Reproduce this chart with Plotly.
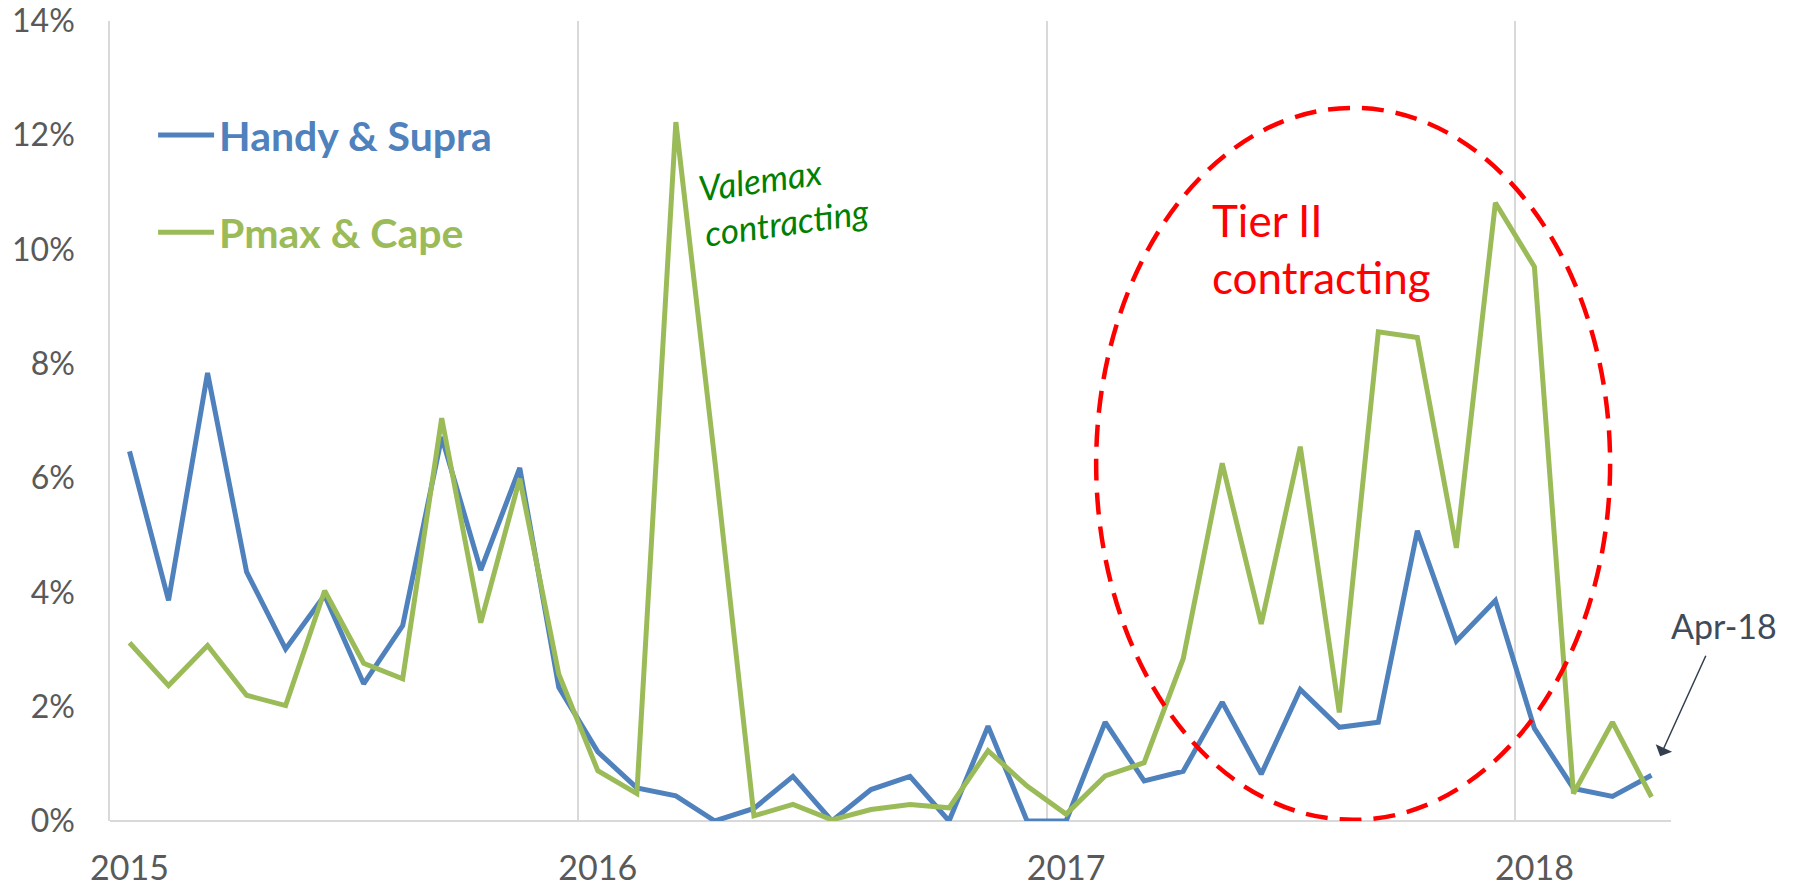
import plotly.graph_objects as go

# ---------------- data (percent of fleet, monthly Jan-15 .. Apr-18) ----------------
MONTHS = [f"{m}-{y}" for y in ("15", "16", "17", "18")
          for m in ("Jan", "Feb", "Mar", "Apr", "May", "Jun", "Jul", "Aug", "Sep", "Oct", "Nov", "Dec")][:40]

HANDY_SUPRA = [6.47, 3.86, 7.84, 4.36, 3.01, 3.95, 2.40, 3.42, 6.72, 4.39, 6.18, 2.34,
               1.21, 0.58, 0.44, 0.00, 0.22, 0.78, 0.00, 0.55, 0.78, 0.00, 1.66, 0.00,
               0.00, 1.73, 0.70, 0.87, 2.08, 0.82, 2.30, 1.64, 1.73, 5.08, 3.15, 3.86,
               1.62, 0.57, 0.43, 0.80]

PMAX_CAPE = [3.12, 2.37, 3.07, 2.20, 2.02, 4.03, 2.76, 2.49, 7.05, 3.47, 5.99, 2.57,
             0.88, 0.48, 12.23, 6.30, 0.09, 0.29, 0.02, 0.20, 0.29, 0.23, 1.23, 0.61,
             0.12, 0.79, 1.02, 2.84, 6.26, 3.45, 6.55, 1.90, 8.56, 8.46, 4.78, 10.82,
             9.70, 0.48, 1.73, 0.42]

YEAR_LABELS = ["2015", "2016", "2017", "2018"]
Y_TICKS = [0, 2, 4, 6, 8, 10, 12, 14]

# ---------------- styling ----------------
BLUE = "#4F81BD"
GREEN = "#9BBB59"
GRID = "#D9D9D9"
TICK_COLOR = "#595959"
FONT = "Lato"

x = list(range(len(MONTHS)))
year_pos = [MONTHS.index(f"Jan-{y[2:]}") for y in YEAR_LABELS]

fig = go.Figure()
fig.add_trace(go.Scatter(
    x=x, y=HANDY_SUPRA, mode="lines", customdata=MONTHS,
    name=f"<b><span style='color:{BLUE}'>Handy &amp; Supra</span></b>",
    line=dict(color=BLUE, width=5), legendgroup="a",
    hovertemplate="%{customdata}: %{y:.2f}%<extra>Handy & Supra</extra>"))
fig.add_trace(go.Scatter(
    x=x, y=PMAX_CAPE, mode="lines", customdata=MONTHS,
    name=f"<b><span style='color:{GREEN}'>Pmax &amp; Cape</span></b>",
    line=dict(color=GREEN, width=5), legendgroup="b",
    hovertemplate="%{customdata}: %{y:.2f}%<extra>Pmax & Cape</extra>"))

# Tier II ellipse (dashed red)
fig.add_shape(type="circle", xref="x", yref="y",
              x0=24.77, x1=37.94, y0=0.02, y1=12.48,
              line=dict(color="#FF0000", width=4.5, dash="22px,12px"),
              layer="above")

peak_i = PMAX_CAPE.index(max(PMAX_CAPE))
last_i = len(MONTHS) - 1

annotations = [
    dict(x=peak_i, y=PMAX_CAPE[peak_i], xref="x", yref="y",
         text="<i>Valemax<br>contracting</i>", showarrow=False,
         xshift=108, yshift=-77, textangle=-8, align="left",
         font=dict(family=FONT, size=35, color="#008000")),
    dict(x=27.69, y=11.0, xref="x", yref="y", xanchor="left", yanchor="top",
         text="Tier II<br>contracting", showarrow=False, align="left",
         font=dict(family=FONT, size=44, color="#FF0000")),
    dict(x=last_i, y=HANDY_SUPRA[last_i], xref="x", yref="y",
         text="Apr-18", showarrow=False, xshift=73, yshift=150,
         font=dict(family=FONT, size=34, color="#3F4B5A")),
    dict(x=last_i, y=HANDY_SUPRA[last_i], xref="x", yref="y",
         text="", showarrow=True, ax=55, ay=-121, standoff=21,
         arrowhead=1, arrowsize=2, arrowwidth=1.5, arrowcolor="#333F4F"),
]

fig.update_layout(
    width=1795, height=887,
    margin=dict(l=102, r=132, t=13, b=74, autoexpand=False),
    paper_bgcolor="white", plot_bgcolor="white",
    font=dict(family=FONT, color=TICK_COLOR),
    showlegend=True,
    legend=dict(x=0.0276, y=0.899, xanchor="left", yanchor="top",
                bgcolor="rgba(0,0,0,0)", font=dict(family=FONT, size=41),
                tracegroupgap=41, itemwidth=56),
    annotations=annotations,
    xaxis=dict(range=[-0.5, len(MONTHS) - 0.5], tickmode="array",
               tickvals=year_pos, ticktext=YEAR_LABELS, automargin=False,
               showgrid=False, zeroline=False, showline=False, ticks="",
               tickfont=dict(family=FONT, size=34, color=TICK_COLOR),
               ticklabelstandoff=24, ticklabeloverflow="allow",
               minor=dict(tick0=-0.5, dtick=12, showgrid=True, gridcolor=GRID,
                          gridwidth=1.5, ticks="")),
    yaxis=dict(range=[0, 14], tickmode="array", tickvals=Y_TICKS,
               ticktext=[f"{v}%" for v in Y_TICKS], automargin=False,
               showgrid=False, zeroline=True, zerolinecolor=GRID, zerolinewidth=2,
               showline=True, linecolor=GRID, linewidth=1.5, ticks="",
               tickfont=dict(family=FONT, size=32, color=TICK_COLOR),
               ticklabelstandoff=27, ticklabeloverflow="allow"),
)

fig.write_html("out.html")
